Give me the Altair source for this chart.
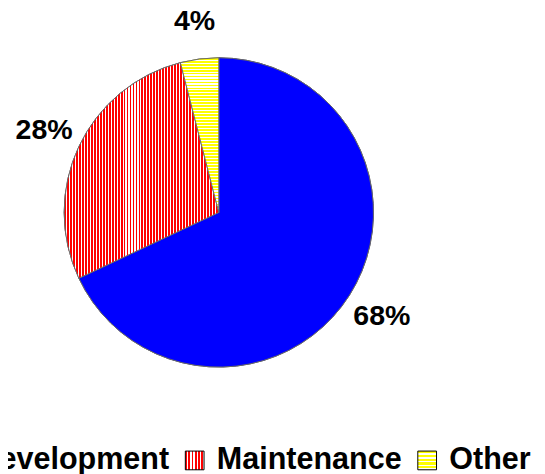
import altair as alt
import pandas as pd

# ---- data ----
categories = ["Development", "Maintenance", "Other"]
shares = [68, 28, 4]
labels = ["68%", "28%", "4%"]
order_idx = [0, 1, 2]

df = pd.DataFrame({"category": categories, "share": shares, "label": labels, "idx": order_idx})

BLUE = "#0000FF"
RED = "#FF0000"
YELLOW = "#FFFF00"
WHITE = "#FFFFFF"


def stripe_stops(c1, c2, n, frac):
    stops = []
    for i in range(n):
        a = i / n
        b = (i + frac) / n
        c = (i + 1) / n
        stops += [(a, c1), (b, c1), (b, c2), (c, c2)]
    return stops


def grad_dict(c1, c2, n, frac, along_x):
    return {
        "gradient": "linear",
        "x1": 0, "y1": 0,
        "x2": 1 if along_x else 0,
        "y2": 0 if along_x else 1,
        "stops": [{"offset": round(o, 5), "color": col} for o, col in stripe_stops(c1, c2, n, frac)],
    }


def grad_expr(c1, c2, n, frac, along_x):
    g = grad_dict(c1, c2, n, frac, along_x)
    stops = ",".join("{offset:%s,color:'%s'}" % (s["offset"], s["color"]) for s in g["stops"])
    return "{gradient:'linear',x1:%d,y1:%d,x2:%d,y2:%d,stops:[%s]}" % (
        g["x1"], g["y1"], g["x2"], g["y2"], stops)


legend_range = [
    BLUE,
    alt.ExprRef(grad_expr(RED, WHITE, 6, 0.6, True)),
    alt.ExprRef(grad_expr(YELLOW, WHITE, 5, 0.6, False)),
]

red_fine = grad_dict(RED, WHITE, 52, 0.62, True)
yellow_fine = grad_dict(YELLOW, WHITE, 52, 0.62, False)

base = alt.Chart(df).encode(
    theta=alt.Theta("share:Q", stack=True),
    order=alt.Order("idx:Q"),
)

legend_layer = base.mark_arc(outerRadius=157, stroke="#6a6a6a", strokeWidth=1).encode(
    color=alt.Color(
        "category:N",
        scale=alt.Scale(domain=categories, range=legend_range),
        legend=alt.Legend(
            title=None,
            orient="none",
            legendX=-69,
            legendY=440,
            direction="horizontal",
            symbolType="square",
            symbolSize=361,
            symbolStrokeColor="#000000",
            symbolStrokeWidth=1,
            labelFont="Liberation Sans",
            labelFontSize=31,
            labelFontWeight="bold",
            labelColor="#000000",
            labelOffset=7,
            labelLimit=500,
            columnPadding=10,
            padding=0,
        ),
    )
)

stripe_layer = base.mark_arc(outerRadius=157, stroke="#6a6a6a", strokeWidth=1).encode(
    detail="category:N",
    fill={
        "condition": [
            {"test": "datum.category === 'Maintenance'", "value": red_fine},
            {"test": "datum.category === 'Other'", "value": yellow_fine},
        ],
        "value": BLUE,
    },
)

text_layer = base.mark_text(
    radius=196,
    font="Liberation Sans",
    fontSize=29,
    fontWeight="bold",
    color="#000000",
).encode(detail="category:N", text="label:N")

chart = (
    alt.layer(legend_layer, stripe_layer, text_layer)
    .properties(
        width=428,
        height=408,
        padding={"left": 0, "top": 0, "right": 109, "bottom": 58},
        autosize=alt.AutoSizeParams(type="none"),
    )
    .configure_view(stroke=None)
)

chart.save("out.html", embed_options={"renderer": "svg", "actions": False})
